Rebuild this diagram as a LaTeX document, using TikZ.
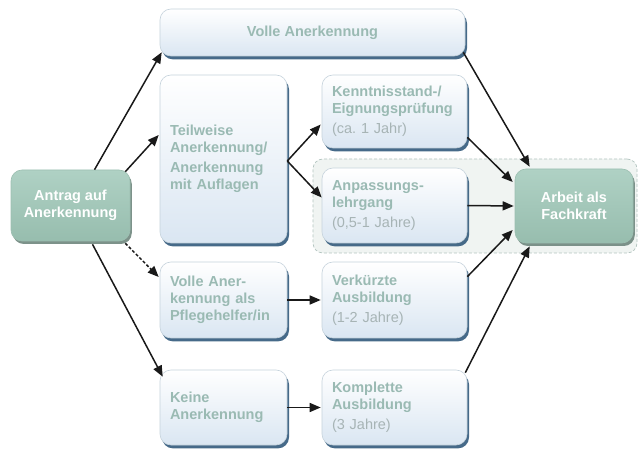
\documentclass[tikz,border=0pt]{standalone}
\usepackage{fontspec}
\setmainfont{Liberation Sans}
\usetikzlibrary{arrows.meta,shadows}
\definecolor{txtteal}{HTML}{9ABAB3}
\definecolor{txtgray}{HTML}{A7B4B5}
\definecolor{boxedge}{HTML}{C6D3DC}
\definecolor{boxbot}{HTML}{DAE6F2}
\definecolor{shadowblue}{HTML}{3D6383}
\definecolor{greentop}{HTML}{AFD1C4}
\definecolor{greenbot}{HTML}{97BDAE}
\definecolor{greenedge}{HTML}{9CBFB1}
\definecolor{greenshadow}{HTML}{6F877E}
\definecolor{regionfill}{HTML}{F0F4F2}
\definecolor{regionedge}{HTML}{B3C5C0}
\newcommand{\durtext}[1]{{\mdseries\color{txtgray}#1}}
\begin{document}
\frenchspacing
\begin{tikzpicture}[x=1pt,y=-1pt,
  lightbox/.style={draw=boxedge, line width=0.6pt, rounded corners=11pt,
    top color=white, bottom color=boxbot,
    drop shadow={shadow xshift=2pt, shadow yshift=-3.4pt, fill=shadowblue, opacity=0.95},
    text=txtteal, font=\bfseries\fontsize{14.5}{17}\selectfont,
    inner xsep=10pt, inner ysep=0pt, align=left},
  greenbox/.style={draw=greenedge, line width=0.6pt, rounded corners=11pt,
    top color=greentop, bottom color=greenbot,
    drop shadow={shadow xshift=1.8pt, shadow yshift=-3pt, fill=greenshadow, opacity=0.9},
    text=white, font=\bfseries\fontsize{14.5}{17}\selectfont,
    inner sep=0pt, align=center},
  region/.style={draw=regionedge, fill=regionfill, dash pattern=on 3pt off 2pt,
    line width=0.7pt, rounded corners=10pt, inner sep=0pt},
  conn/.style={line width=1.5pt, draw=black!90, -{Triangle[length=11pt,width=9pt]}}
]
\useasboundingbox (0,0) rectangle (638,449);
\fill[white] (0,0) rectangle (638,449);

\node[region, minimum width=324pt, minimum height=94pt] (region) at (475,206) {};

\node[lightbox, minimum width=305pt, minimum height=47pt, align=center] (volle) at (312.5,32.5) {Volle Anerkennung};
\node[lightbox, minimum width=127pt, minimum height=168pt, text width=107pt] (teil) at (223.5,159)
  {Teilweise\\Anerkennung/\\[3pt]Anerkennung\\mit Auflagen};
\node[greenbox, minimum width=119pt, minimum height=71pt] (antrag) at (70.5,205.5) {Antrag auf\\Anerkennung};
\node[lightbox, minimum width=145pt, minimum height=73pt, text width=125pt] (kennt) at (394.5,111.5)
  {Kenntnisstand-/\\Eignungsprüfung\\[3pt]\durtext{(ca. 1 Jahr)}};
\node[lightbox, minimum width=145pt, minimum height=75pt, text width=125pt] (anpass) at (394.5,205.5)
  {Anpassungs-\\lehrgang\\[3pt]\durtext{(0,5-1 Jahre)}};
\node[greenbox, minimum width=118pt, minimum height=74pt] (arbeit) at (574,206) {Arbeit als\\Fachkraft};
\node[lightbox, minimum width=127pt, minimum height=76pt, text width=107pt] (pflege) at (223.5,300)
  {Volle Aner-\\kennung als\\Pflegehelfer/in};
\node[lightbox, minimum width=145pt, minimum height=76pt, text width=125pt] (verk) at (394.5,300)
  {Verkürzte\\Ausbildung\\[3pt]\durtext{(1-2 Jahre)}};
\node[lightbox, minimum width=127pt, minimum height=75pt, text width=107pt] (keine) at (223.5,407.5)
  {Keine\\Anerkennung};
\node[lightbox, minimum width=145pt, minimum height=75pt, text width=125pt] (kompl) at (394.5,407.5)
  {Komplette\\Ausbildung\\[3pt]\durtext{(3 Jahre)}};

\draw[conn] ([xshift=24pt]antrag.north) -- ([xshift=2pt,yshift=4pt]volle.south west);
\draw[conn] ([xshift=-5pt,yshift=-2pt]antrag.north east) -- ([xshift=-1pt,yshift=24pt]teil.west);
\draw[conn] ([yshift=-2pt]teil.east) -- ([xshift=-1pt,yshift=-13pt]kennt.west);
\draw[conn] ([yshift=-2pt]teil.east) -- ([yshift=8pt]anpass.west);
\draw[conn] ([xshift=-2pt,yshift=4pt]volle.south east) -- ([xshift=15pt,yshift=2pt]arbeit.north west);
\draw[conn] ([yshift=11pt]kennt.south east) -- ([xshift=-2pt,yshift=24pt]arbeit.west);
\draw[conn] (anpass.east) -- ([xshift=-1pt]arbeit.west);
\draw[conn] ([yshift=-15pt]verk.north east) -- ([xshift=-2pt,yshift=-24pt]arbeit.west);
\draw[conn] ([xshift=-2pt,yshift=-3pt]kompl.north east) -- ([xshift=15pt,yshift=-3pt]arbeit.south west);
\draw[conn, dash pattern=on 3pt off 2pt] ([xshift=-5pt,yshift=-2pt]antrag.south east) -- ([xshift=-1pt,yshift=23pt]pflege.west);
\draw[conn] ([xshift=22pt,yshift=-3pt]antrag.south) -- ([xshift=3pt,yshift=-7pt]keine.north west);
\draw[conn] (pflege.east) -- ([xshift=-1pt]verk.west);
\draw[conn] (keine.east) -- ([xshift=-1pt]kompl.west);
\end{tikzpicture}
\end{document}
